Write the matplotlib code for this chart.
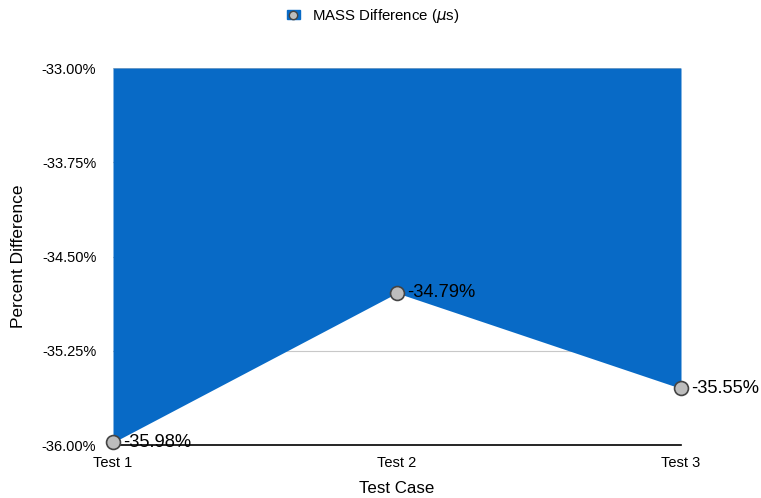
import matplotlib
matplotlib.use("Agg")
import matplotlib.pyplot as plt
from matplotlib.patches import Rectangle
from matplotlib.lines import Line2D
from matplotlib.legend_handler import HandlerTuple

plt.rcParams['font.family'] = ['Liberation Sans', 'DejaVu Sans']

categories = ["Test 1", "Test 2", "Test 3"]
values = [-35.98, -34.79, -35.55]
labels = ["-35.98%", "-34.79%", "-35.55%"]
yticks = [-36.00, -35.25, -34.50, -33.75, -33.00]

fig = plt.figure(figsize=(7.61, 4.98), dpi=100)
ax = fig.add_axes([113/761, 1-445/498, (681-113)/761, (445-68)/498])

x = list(range(len(categories)))
for t in yticks:
    ax.axhline(t, color='#c8c8c8', lw=0.8, zorder=0)
ax.fill_between(x, values, -33.0, color='#086ac6', lw=0, zorder=1)
ax.plot(x, values, ls='none', marker='o', ms=10, mfc='#bdbdbd', mec='#444444', mew=1.2, zorder=3, clip_on=False)
for xi, v, lab in zip(x, values, labels):
    ax.annotate(lab, (xi, v), xytext=(7, 0), textcoords='offset points', va='center', ha='left', fontsize=13.2, zorder=4)

ax.set_xlim(0, 2)
ax.set_ylim(-36.0, -33.0)
ax.set_yticks(yticks)
ax.set_yticklabels([f"{t:.2f}%" for t in yticks], fontsize=10.5)
ax.set_xticks(x)
ax.set_xticklabels(categories, fontsize=10.5)
ax.tick_params(axis='both', length=0)
ax.tick_params(axis='y', pad=12)
ax.tick_params(axis='x', pad=8)
for s in ['left', 'right', 'top']:
    ax.spines[s].set_visible(False)
ax.spines['bottom'].set_color('black')
ax.spines['bottom'].set_linewidth(1.2)
ax.spines['bottom'].set_zorder(2)

fig.text(19/761, 1-256/498, "Percent Difference", rotation=90, ha='center', va='center', fontsize=12.5)
fig.text(397/761, 1-488/498, "Test Case", ha='center', va='center', fontsize=12.2)

h_patch = Rectangle((0, 0), 1, 1, color='#086ac6')
h_mark = Line2D([], [], ls='none', marker='o', ms=6, mfc='#bdbdbd', mec='#444444', mew=1)
leg = fig.legend([(h_patch, h_mark)], ["MASS Difference ($\\mu$s)"], loc='center',
                 bbox_to_anchor=(373/761, 1-16/498), frameon=False, fontsize=10.8,
                 handler_map={tuple: HandlerTuple(ndivide=1, pad=0)},
                 handlelength=0.9, handleheight=0.6, handletextpad=0.8)

fig.savefig("out.png", dpi=100)
